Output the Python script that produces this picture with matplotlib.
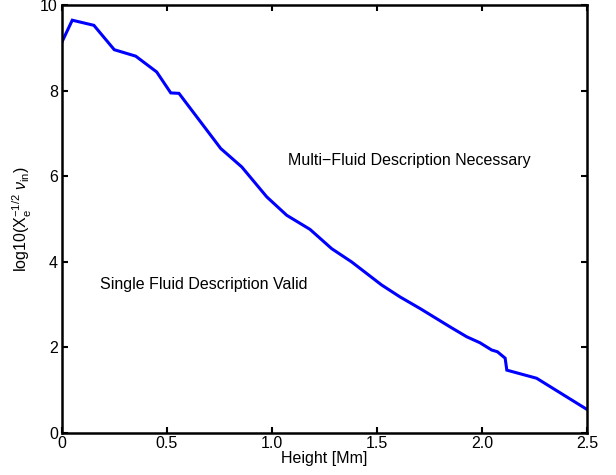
import matplotlib
matplotlib.use("Agg")
import matplotlib.pyplot as plt

plt.rcParams['font.family'] = ['Liberation Sans', 'DejaVu Sans']
plt.rcParams['mathtext.fontset'] = 'custom'
plt.rcParams['mathtext.rm'] = 'Liberation Sans'
plt.rcParams['mathtext.it'] = 'Liberation Sans:italic'

height = [0.0, 0.049, 0.152, 0.249, 0.351, 0.451, 0.518, 0.557, 0.756, 0.856,
          0.975, 1.07, 1.181, 1.284, 1.379, 1.522, 1.61, 1.705, 1.848, 1.927,
          1.99, 2.046, 2.073, 2.11, 2.118, 2.26, 2.5]
logval = [9.14, 9.65, 9.53, 8.96, 8.81, 8.44, 7.95, 7.94, 6.65, 6.22,
          5.52, 5.09, 4.76, 4.31, 4.00, 3.46, 3.18, 2.91, 2.48, 2.25,
          2.11, 1.94, 1.90, 1.75, 1.47, 1.28, 0.55]
xticks = [0.0, 0.5, 1.0, 1.5, 2.0, 2.5]
xticklabels = ['0', '0.5', '1.0', '1.5', '2.0', '2.5']
yticks = [0, 2, 4, 6, 8, 10]

fig = plt.figure(figsize=(6.16, 4.75), dpi=100)
ax = fig.add_axes([0.1006, 0.0884, 0.8524, 0.9006])
ax.plot(height, logval, color='#0000ff', lw=2.2, solid_joinstyle='miter')
ax.set_xlim(0, 2.5)
ax.set_ylim(0, 10)
ax.set_xticks(xticks)
ax.set_xticklabels(xticklabels)
ax.set_yticks(yticks)
ax.tick_params(direction='in', length=4, width=1.5, labelsize=11.5, top=True, right=True, pad=2)
ax.tick_params(axis='y', pad=3)
for s in ax.spines.values():
    s.set_linewidth(1.8)
ax.set_xlabel('Height [Mm]', fontsize=11.5, labelpad=0)
ax.set_ylabel(r'log10(X$_\mathrm{e}^{-1/2}$ $\nu_\mathrm{in}$)', fontsize=11.5, labelpad=4)
ax.text(1.076, 6.38, 'Multi\u2212Fluid Description Necessary', fontsize=11.5, va='center', ha='left')
ax.text(0.18, 3.46, 'Single Fluid Description Valid', fontsize=11.5, va='center', ha='left')
fig.savefig('out.png', dpi=100)
